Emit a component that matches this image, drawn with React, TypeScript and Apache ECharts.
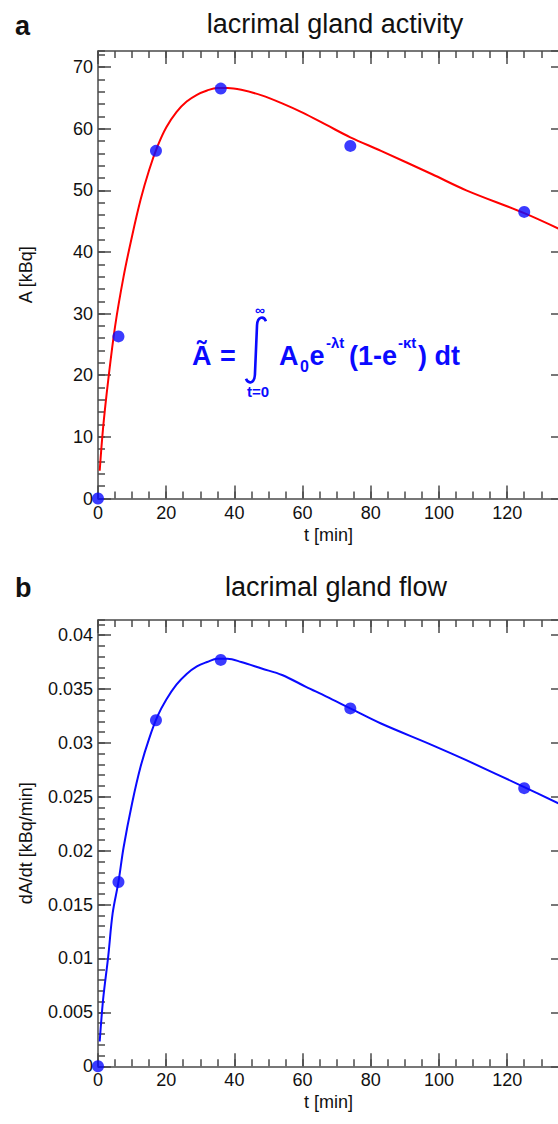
import React, { useEffect, useRef } from "react";
import * as echarts from "echarts";

// ---- data ----
const sampleTimes = [0, 6, 17, 36, 74, 125];
const activityKBq = [0, 26.3, 56.4, 66.5, 57.2, 46.5];
const flowKBqPerMin = [0, 0.0171, 0.0321, 0.0377, 0.0332, 0.0258];

const fitTimesA = [0.5, 1.5, 3, 5, 7.5, 10, 12.5, 15, 17.5, 20, 23, 26, 29, 32, 35, 38, 42, 48, 54, 60, 67, 74, 83, 98, 108, 125, 135];
const fitActivity = [4.5, 11.5, 19.2, 27.9, 36.0, 42.6, 48.5, 53.3, 57.2, 60.2, 62.7, 64.4, 65.5, 66.2, 66.6, 66.6, 66.3, 65.4, 64.1, 62.6, 60.6, 58.6, 56.4, 52.6, 50.0, 46.3, 43.8];

const fitTimesF = [0.5, 1.5, 3, 4.3, 6, 7.5, 10, 12.5, 15, 17.5, 20, 23, 26, 29, 32, 35, 38, 42, 48, 54, 61, 67, 74, 83, 98, 108, 125, 135];
const fitFlow = [0.0023, 0.0062, 0.0102, 0.0142, 0.0171, 0.0203, 0.0244, 0.0278, 0.0304, 0.0325, 0.034, 0.0354, 0.0364, 0.0371, 0.0375, 0.0378, 0.0378, 0.0375, 0.0369, 0.0363, 0.0352, 0.0343, 0.0332, 0.0318, 0.0298, 0.0284, 0.0259, 0.0244];

const xTickValues = [0, 20, 40, 60, 80, 100, 120];
const xTickLabels = ["0", "20", "40", "60", "80", "100", "120"];
const yTickValuesA = [0, 10, 20, 30, 40, 50, 60, 70];
const yTickLabelsA = ["0", "10", "20", "30", "40", "50", "60", "70"];
const yTickValuesF = [0, 0.005, 0.01, 0.015, 0.02, 0.025, 0.03, 0.035, 0.04];
const yTickLabelsF = ["0", "0.005", "0.01", "0.015", "0.02", "0.025", "0.03", "0.035", "0.04"];

const X_MAX = 135.2;
const Y_MAX_A = 72.6;
const Y_MAX_F = 0.0414;

const AXIS = "#4a4a4a";
const FONT = "'Liberation Sans', Arial, sans-serif";
const BLUE = "#0a0aff";
const RED = "#ff0000";
const LABEL_SIZE = 18;

echarts.graphic.registerShape(
  "integralSign",
  echarts.graphic.extendPath("M 19 5 C 17 0, 11 0, 10.5 9 L 8.5 57 C 8 66, 2 66, 0 61", {})
);

function labelFrom(values: number[], labels: string[]) {
  return (v: number) => {
    for (let i = 0; i < values.length; i++) {
      if (Math.abs(v - values[i]) < 1e-9) return labels[i];
    }
    return "";
  };
}

const lineStyle = { color: AXIS, width: 1.5 };

function makeXAxes(grid: number) {
  const c = { type: "value", gridIndex: grid, min: 0, max: X_MAX, splitLine: { show: false } };
  return [
    {
      ...c,
      position: "bottom",
      interval: 20,
      axisLine: { show: true, onZero: false, lineStyle },
      axisTick: { show: true, inside: true, length: 13, lineStyle },
      axisLabel: {
        show: true,
        margin: 5,
        fontSize: LABEL_SIZE,
        color: "#111",
        fontFamily: FONT,
        showMaxLabel: false,
        formatter: labelFrom(xTickValues, xTickLabels),
      },
      name: "t [min]",
      nameLocation: "middle",
      nameGap: 27,
      nameTextStyle: { fontSize: LABEL_SIZE, color: "#111", fontFamily: FONT },
    },
    {
      ...c,
      position: "bottom",
      interval: 5,
      axisLine: { show: false, onZero: false },
      axisTick: { show: true, inside: true, length: 7, lineStyle },
      axisLabel: { show: false },
    },
    {
      ...c,
      position: "top",
      interval: 20,
      axisLine: { show: true, onZero: false, lineStyle },
      axisTick: { show: true, inside: true, length: 13, lineStyle },
      axisLabel: { show: false },
    },
    {
      ...c,
      position: "top",
      interval: 5,
      axisLine: { show: false, onZero: false },
      axisTick: { show: true, inside: true, length: 7, lineStyle },
      axisLabel: { show: false },
    },
  ];
}

function makeYAxes(grid: number, max: number, major: number, minor: number, values: number[], labels: string[], name: string) {
  const c = { type: "value", gridIndex: grid, min: 0, max, splitLine: { show: false } };
  return [
    {
      ...c,
      position: "left",
      interval: major,
      axisLine: { show: true, onZero: false, lineStyle },
      axisTick: { show: true, inside: true, length: 13, lineStyle },
      axisLabel: {
        show: true,
        margin: 5,
        fontSize: LABEL_SIZE,
        color: "#111",
        fontFamily: FONT,
        showMaxLabel: false,
        formatter: labelFrom(values, labels),
      },
      name,
      nameLocation: "middle",
      nameRotate: 90,
      nameGap: 63,
      nameTextStyle: { fontSize: LABEL_SIZE, color: "#111", fontFamily: FONT },
    },
    {
      ...c,
      position: "left",
      interval: minor,
      axisLine: { show: false, onZero: false },
      axisTick: { show: true, inside: true, length: 7, lineStyle },
      axisLabel: { show: false },
    },
    {
      ...c,
      position: "right",
      interval: major,
      axisLine: { show: false, onZero: false },
      axisTick: { show: true, inside: true, length: 8, lineStyle },
      axisLabel: { show: false },
    },
  ];
}

function txt(text: string, x: number, y: number, fontSize: number, opts: any = {}) {
  return {
    type: "text",
    x,
    y,
    silent: true,
    style: {
      text,
      fontSize,
      fontFamily: FONT,
      fontWeight: opts.bold ? "bold" : "normal",
      fill: opts.fill || "#111",
      align: opts.align || "left",
      verticalAlign: "middle",
    },
  };
}

export default function App() {
  const ref = useRef<HTMLDivElement>(null);

  useEffect(() => {
    if (!ref.current) return;
    const chart = echarts.init(ref.current, undefined, { renderer: "svg" });
    const fitA = fitTimesA.map((t, i) => [t, fitActivity[i]]);
    const fitF = fitTimesF.map((t, i) => [t, fitFlow[i]]);
    const ptsA = sampleTimes.map((t, i) => [t, activityKBq[i]]);
    const ptsF = sampleTimes.map((t, i) => [t, flowKBqPerMin[i]]);

    const B = { bold: true, fill: BLUE };
    const option: any = {
      animation: false,
      backgroundColor: "#fff",
      grid: [
        { left: 98, right: 3, top: 51, height: 447.5 },
        { left: 98, right: 3, top: 620, height: 446.3 },
      ],
      xAxis: [...makeXAxes(0), ...makeXAxes(1)],
      yAxis: [
        ...makeYAxes(0, Y_MAX_A, 10, 2, yTickValuesA, yTickLabelsA, "A [kBq]"),
        ...makeYAxes(1, Y_MAX_F, 0.005, 0.001, yTickValuesF, yTickLabelsF, "dA/dt [kBq/min]"),
      ],
      series: [
        {
          type: "line",
          xAxisIndex: 0,
          yAxisIndex: 0,
          data: fitA,
          smooth: 0.35,
          showSymbol: false,
          lineStyle: { color: RED, width: 2 },
          z: 2,
        },
        {
          type: "scatter",
          xAxisIndex: 0,
          yAxisIndex: 0,
          data: ptsA,
          symbolSize: 12,
          itemStyle: { color: BLUE },
          z: 3,
          clip: false,
        },
        {
          type: "line",
          xAxisIndex: 4,
          yAxisIndex: 3,
          data: fitF,
          smooth: 0.35,
          showSymbol: false,
          lineStyle: { color: BLUE, width: 2 },
          z: 2,
        },
        {
          type: "scatter",
          xAxisIndex: 4,
          yAxisIndex: 3,
          data: ptsF,
          symbolSize: 12,
          itemStyle: { color: BLUE },
          z: 3,
          clip: false,
        },
      ],
      graphic: [
        txt("a", 15, 26, 27, { bold: true }),
        txt("lacrimal gland activity", 335, 24, 27, { align: "center" }),
        txt("b", 15, 588, 27, { bold: true }),
        txt("lacrimal gland flow", 336, 587, 27, { align: "center" }),
        // formula
        txt("Ã", 192, 356, 27, B),
        txt("=", 220, 356, 27, B),
        {
          type: "integralSign",
          x: 246,
          y: 316,
          scaleX: 1.05,
          scaleY: 1.03,
          silent: true,
          style: { fill: "none", stroke: BLUE, lineWidth: 2.5 },
        },
        txt("∞", 260, 310, 14, { ...B, align: "center" }),
        txt("t=0", 258, 391, 15, { ...B, align: "center" }),
        txt("A", 279, 356, 27, B),
        txt("0", 300, 366, 16, B),
        txt("e", 309.5, 356, 27, B),
        txt("-λt", 326, 342, 15, B),
        txt("(1-e", 349, 356, 27, B),
        txt("-κt", 398, 342, 15, B),
        txt(") dt", 418, 356, 27, B),
      ],
    };
    chart.setOption(option);
    return () => chart.dispose();
  }, []);

  return (
    <div style={{ position: "absolute", left: 0, top: 0, width: 558, height: 1124, overflow: "hidden", background: "#fff" }}>
      <div ref={ref} style={{ width: 562, height: 1124 }} />
    </div>
  );
}
